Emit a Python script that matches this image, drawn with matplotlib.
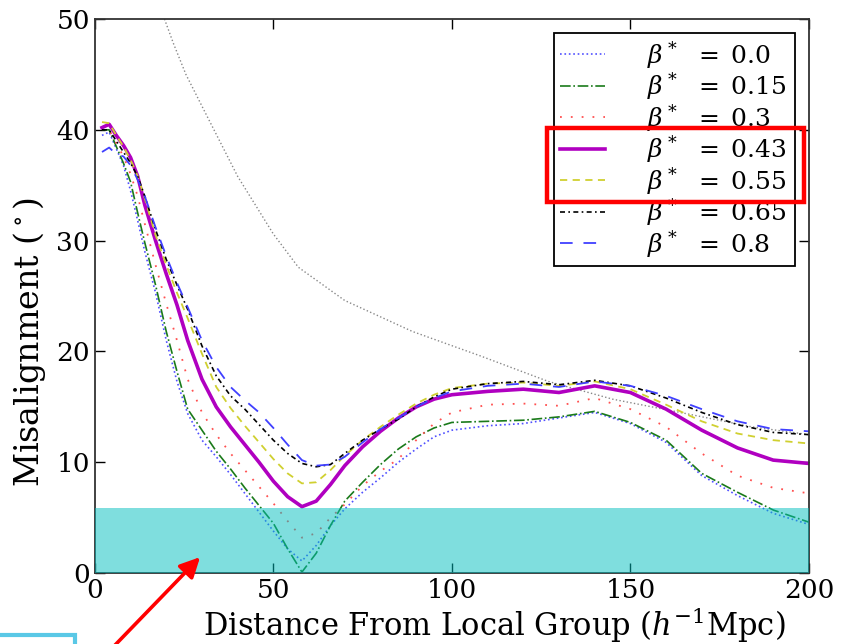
import matplotlib
matplotlib.use('Agg')
import matplotlib.pyplot as plt
from matplotlib.patches import Rectangle, FancyArrowPatch

plt.rcParams['font.family'] = ['DejaVu Serif']
plt.rcParams['mathtext.fontset'] = 'dejavuserif'
plt.rcParams['font.size'] = 19

# Distance grid (h^-1 Mpc) the misalignment curves were read on
distance = [2, 4, 6, 8, 10, 12, 14, 17, 20, 23, 26, 30, 34, 38, 42, 46, 50, 54, 58,
            62, 66, 70, 75, 80, 85, 90, 95, 100, 110, 120, 130, 140, 150, 160, 170,
            180, 190, 200]

# Misalignment angle (degrees) for each beta*
mis_b000 = [39.5, 39.8, 38.3, 36.8, 34.5, 31.8, 29.0, 25.3, 21.0, 17.3, 14.4, 12.0, 10.5,
            8.9, 7.2, 5.5, 3.8, 2.2, 1.1, 2.5, 4.3, 5.8, 7.3, 8.6, 10.0, 11.2, 12.3, 12.9,
            13.3, 13.5, 14.0, 14.5, 13.5, 11.8, 8.8, 7.0, 5.4, 4.4]
mis_b015 = [40.0, 40.0, 38.5, 37.0, 35.3, 32.5, 29.8, 26.0, 21.8, 18.2, 14.8, 12.9, 11.0,
            9.4, 7.7, 6.1, 4.5, 2.2, 0.1, 1.8, 4.3, 6.5, 8.2, 9.8, 11.2, 12.3, 13.1, 13.6,
            13.7, 13.8, 14.1, 14.6, 13.6, 12.0, 9.0, 7.3, 5.7, 4.6]
mis_b030 = [40.3, 40.0, 38.8, 37.6, 36.0, 34.0, 31.5, 27.8, 24.3, 21.0, 17.5, 14.5, 12.5,
            10.8, 9.3, 7.8, 6.3, 4.7, 3.2, 3.6, 5.0, 6.2, 7.9, 9.2, 10.3, 12.0, 13.5, 14.5,
            15.2, 15.3, 15.1, 15.8, 14.8, 13.2, 10.8, 8.8, 7.7, 7.2]
mis_b043 = [40.2, 40.5, 39.5, 38.6, 37.5, 35.8, 33.2, 30.0, 27.0, 24.2, 21.0, 17.5, 15.0,
            13.2, 11.6, 10.0, 8.3, 6.9, 6.0, 6.5, 8.0, 9.7, 11.4, 12.8, 14.0, 15.0, 15.7,
            16.1, 16.4, 16.6, 16.3, 16.9, 16.3, 14.8, 12.9, 11.3, 10.2, 9.9]
mis_b055 = [40.7, 40.6, 39.5, 38.5, 37.3, 35.8, 33.8, 30.5, 27.8, 25.3, 23.0, 19.8, 16.8,
            14.9, 13.3, 11.8, 10.3, 9.0, 8.1, 8.2, 9.3, 10.6, 12.0, 13.2, 14.3, 15.3, 16.1,
            16.7, 17.1, 17.2, 16.9, 17.3, 16.6, 15.2, 13.7, 12.6, 12.0, 11.7]
mis_b065 = [40.0, 40.0, 39.0, 38.0, 37.0, 35.8, 34.0, 31.0, 28.3, 26.0, 23.8, 20.5, 17.8,
            16.0, 14.8, 13.4, 12.0, 10.8, 9.9, 9.6, 9.8, 10.8, 12.0, 13.0, 13.9, 15.0, 15.9,
            16.6, 17.1, 17.3, 17.0, 17.4, 16.9, 15.8, 14.5, 13.4, 12.7, 12.5]
mis_b080 = [38.0, 38.4, 37.8, 37.6, 36.8, 35.5, 34.0, 31.2, 28.6, 26.2, 24.0, 21.0, 18.6,
            16.8, 15.6, 14.5, 13.1, 11.6, 10.2, 9.7, 9.8, 10.5, 11.8, 13.0, 14.0, 15.0, 15.8,
            16.4, 16.9, 17.1, 16.8, 17.3, 16.9, 16.0, 14.8, 13.7, 13.0, 12.8]

# Thin grey reference curve
ref_dist = [19.5, 22, 25.5, 31, 40, 50, 57, 70, 89, 108, 127, 145, 164, 184, 200]
ref_mis = [50.0, 47.8, 45.0, 41.5, 35.8, 30.6, 27.6, 24.6, 21.8, 19.6, 17.3, 15.7, 14.5,
           13.2, 12.5]

beta_labels = ['0.0', '0.15', '0.3', '0.43', '0.55', '0.65', '0.8']
band_top = 5.9

fig = plt.figure(figsize=(8.47, 6.44), dpi=100)
ax = fig.add_axes([0.112, 0.110, 0.843, 0.8605])

ax.plot(ref_dist, ref_mis, color='#888888', linestyle=':', linewidth=1.0)

styles = [
    dict(color='#5050ff', linestyle=':', linewidth=1.2),
    dict(color='#1a7a1a', linestyle='-.', linewidth=1.2),
    dict(color='#ff5050', linestyle=(0, (1, 5)), linewidth=1.3),
    dict(color='#b000c0', linestyle='-', linewidth=2.6),
    dict(color='#d0d030', linestyle=(0, (4, 3)), linewidth=1.3),
    dict(color='black', linestyle=(0, (3, 2, 1, 2)), linewidth=1.2),
    dict(color='#4040ff', linestyle=(0, (7, 6)), linewidth=1.3),
]
series = [mis_b000, mis_b015, mis_b030, mis_b043, mis_b055, mis_b065, mis_b080]
for vals, lab, st in zip(series, beta_labels, styles):
    ax.plot(distance, vals, label=r'$\beta^*\;\;=\;$' + lab + ' ', **st)

# shaded band near zero
ax.axhspan(0, band_top, facecolor='c', alpha=0.5, edgecolor='none', zorder=3)

ax.set_xlim(0, 200)
ax.set_ylim(0, 50)
ax.set_xticks([0, 50, 100, 150, 200])
ax.set_yticks([0, 10, 20, 30, 40, 50])
ax.tick_params(direction='in', length=7, width=1, top=True, right=True)
for sp in ax.spines.values():
    sp.set_linewidth(1.3)
    sp.set_color('#333333')

ax.set_xlabel(r'Distance From Local Group ($h^{-1}$Mpc)', fontsize=22)
ax.xaxis.set_label_coords(0.559, -0.058)
ax.set_ylabel(r'Misalignment ($^\circ$)', fontsize=24)
ax.yaxis.set_label_coords(-0.066, 0.417)

leg = ax.legend(loc='upper right', bbox_to_anchor=(0.98, 0.975), borderaxespad=0,
                fancybox=False, framealpha=1, edgecolor='black', handlelength=1.8,
                labelspacing=0.0, borderpad=0.25, handletextpad=1.7, fontsize=18)
leg.get_frame().set_linewidth(1.3)

# highlight around two legend rows
fig.patches.append(Rectangle((0.6458, 0.6863), 0.3034, 0.1149, transform=fig.transFigure,
                             fill=False, edgecolor='red', linewidth=3.2, figure=fig))

# arrow pointing into the band
arrow = FancyArrowPatch((0.115, -0.03), (0.2385, 0.138), transform=fig.transFigure,
                        arrowstyle='-|>', mutation_scale=30, color='red', linewidth=2.6)
fig.patches.append(arrow)

# partly visible box in the lower left corner
fig.patches.append(Rectangle((-0.02, -0.05), 0.1085, 0.064, transform=fig.transFigure,
                             fill=False, edgecolor='#5ac8e6', linewidth=3, figure=fig))

fig.savefig('out.png', dpi=100)
